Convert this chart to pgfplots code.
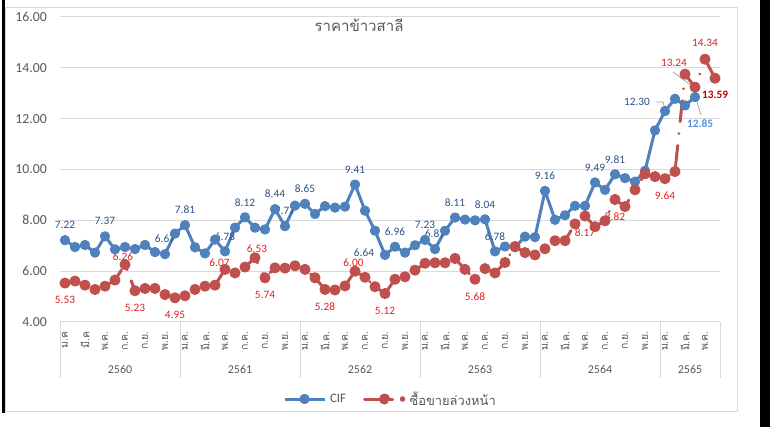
\documentclass[border=0pt]{standalone}
\usepackage{fontspec}
\setmainfont{Carlito}
\newfontfamily\thai[Script=Thai]{Loma}
\usepackage{pgfplots}
\pgfplotsset{compat=1.18}
\definecolor{cifblue}{HTML}{4F81BD}
\definecolor{redser}{HTML}{C0504D}
\definecolor{gridgray}{HTML}{D9D9D9}
\definecolor{textgray}{HTML}{595959}
\definecolor{cifdark}{HTML}{2E5286}
\definecolor{redlbl}{HTML}{E02020}
\definecolor{darkred}{HTML}{C00000}
\definecolor{lightblue}{HTML}{4F94DC}
\definecolor{leader}{HTML}{A6A6A6}
\tikzset{
  cifl/.style={font=\fontsize{11.3pt}{13pt}\selectfont, text=cifdark, inner sep=0pt},
  redl/.style={font=\fontsize{11.3pt}{13pt}\selectfont, text=redlbl, inner sep=0pt},
  yearl/.style={font=\fontsize{12pt}{14pt}\selectfont, text=textgray, inner sep=0pt},
}
\begin{document}
\begin{tikzpicture}
\fill[white] (0pt,0pt) rectangle (770pt,427pt);
\useasboundingbox (0pt,0pt) rectangle (770pt,427pt);
\draw[gridgray, line width=1pt] (5pt,15pt) rectangle (737pt,419pt);
\fill[black] (760pt,0pt) rectangle (770pt,427pt);
\fill[black] (2pt,14pt) rectangle (4.5pt,427pt);
\node[text=textgray, font=\fontsize{15pt}{18pt}\thai, inner sep=0pt] at (359pt,402pt) {ราคาข้าวสาลี};
\begin{axis}[
  width=660pt, height=305pt, scale only axis,
  at={(60pt,105pt)}, anchor=south west,
  xmin=-0.5, xmax=65.5, ymin=4, ymax=16,
  axis line style={draw=none},
  ymajorgrids, grid style={gridgray, line width=1pt},
  major tick length=0pt,
  clip=false,
  ytick={4,6,...,16},
  yticklabel shift=13pt,
  yticklabel style={font=\fontsize{13.8pt}{16pt}\selectfont, text=textgray, inner sep=0pt,
    /pgf/number format/.cd, fixed, fixed zerofill, precision=2, assume math mode=true},
  xtick={0,2,...,64},
  xticklabels={ม.ค, มี.ค, พ.ค., ก.ค., ก.ย., พ.ย.,
    ม.ค., มี.ค., พ.ค., ก.ค., ก.ย., พ.ย.,
    ม.ค., มี.ค., พ.ค., ก.ค., ก.ย., พ.ย.,
    ม.ค., มี.ค., พ.ค., ก.ค., ก.ย., พ.ย.,
    ม.ค., มี.ค., พ.ค., ก.ค., ก.ย., พ.ย.,
    ม.ค., มี.ค., พ.ค.},
  xticklabel shift=9pt,
  xticklabel style={font=\fontsize{10.5pt}{12pt}\thai, text=textgray, rotate=90, anchor=east, inner sep=0pt},
  legend columns=2,
  legend style={draw=none, fill=none, at={(axis description cs:0.3379,-0.2525)}, anchor=west,
    inner sep=0pt, outer sep=0pt,
    font=\fontsize{12.9pt}{15pt}\selectfont, text=textgray,
    nodes={inner sep=0pt},
    /tikz/every odd column/.append style={column sep=4pt},
    /tikz/every even column/.append style={column sep=17pt}},
]
\addplot[cifblue, line width=3pt, line join=round, mark=*, mark size=3.6pt,
  mark options={draw=none, fill=cifblue},
  legend image code/.code={\draw[cifblue, line width=3pt] (0pt,0pt) -- (40pt,0pt);
    \fill[cifblue] (20pt,0pt) circle (3.6pt);}]
coordinates {(0,7.22)(1,6.95)(2,7.03)(3,6.73)(4,7.37)(5,6.86)(6,6.95)(7,6.87)(8,7.03)(9,6.75)(10,6.67)(11,7.48)
(12,7.81)(13,6.94)(14,6.70)(15,7.24)(16,6.78)(17,7.71)(18,8.12)(19,7.71)(20,7.64)(21,8.44)(22,7.77)(23,8.58)
(24,8.65)(25,8.25)(26,8.56)(27,8.50)(28,8.54)(29,9.41)(30,8.38)(31,7.59)(32,6.64)(33,6.96)(34,6.73)(35,7.02)
(36,7.23)(37,6.87)(38,7.59)(39,8.11)(40,8.03)(41,8.00)(42,8.04)(43,6.78)(44,6.97)(45,6.94)(46,7.36)(47,7.34)
(48,9.16)(49,8.02)(50,8.20)(51,8.57)(52,8.57)(53,9.49)(54,9.20)(55,9.81)(56,9.66)(57,9.52)(58,9.95)(59,11.54)
(60,12.30)(61,12.78)(62,12.52)(63,12.85)};
\addlegendentry{CIF}
\addplot[redser, line width=3pt, line cap=round, line join=round,
  dash pattern=on 21pt off 12pt on 0.01pt off 12pt,
  mark=*, mark size=4pt, mark options={solid, draw=none, fill=redser},
  legend image code/.code={\draw[redser, line width=3pt] (0pt,0pt) -- (16pt,0pt);
    \draw[redser, line width=3pt] (20pt,0pt) -- (28pt,0pt);
    \fill[redser] (20pt,0pt) circle (4pt);
    \fill[redser] (38pt,0pt) circle (1.5pt);}]
coordinates {(0,5.53)(1,5.61)(2,5.45)(3,5.28)(4,5.41)(5,5.65)(6,6.26)(7,5.23)(8,5.32)(9,5.32)(10,5.08)(11,4.95)
(12,5.03)(13,5.28)(14,5.41)(15,5.45)(16,6.07)(17,5.93)(18,6.16)(19,6.53)(20,5.74)(21,6.13)(22,6.12)(23,6.21)
(24,6.07)(25,5.74)(26,5.28)(27,5.26)(28,5.42)(29,6.00)(30,5.76)(31,5.39)(32,5.12)(33,5.68)(34,5.78)(35,6.04)
(36,6.31)(37,6.33)(38,6.33)(39,6.50)(40,6.07)(41,5.68)(42,6.10)(43,5.93)(44,6.34)(45,6.97)(46,6.73)(47,6.64)
(48,6.88)(49,7.20)(50,7.20)(51,7.86)(52,8.17)(53,7.75)(54,7.98)(55,8.82)(56,8.54)(57,9.20)(58,9.83)(59,9.72)
(60,9.64)(61,9.92)(62,13.75)(63,13.24)(64,14.34)(65,13.59)};
\addlegendentry{\thai ซื้อขายล่วงหน้า}
% category axis separators
\draw[gridgray, line width=1pt] (axis cs:-0.5,4) -- ++(0pt,-56pt);
\draw[gridgray, line width=1pt] (axis cs:11.5,4) -- ++(0pt,-56pt);
\draw[gridgray, line width=1pt] (axis cs:23.5,4) -- ++(0pt,-56pt);
\draw[gridgray, line width=1pt] (axis cs:35.5,4) -- ++(0pt,-56pt);
\draw[gridgray, line width=1pt] (axis cs:47.5,4) -- ++(0pt,-56pt);
\draw[gridgray, line width=1pt] (axis cs:59.5,4) -- ++(0pt,-56pt);
\draw[gridgray, line width=1pt] (axis cs:65.5,4) -- ++(0pt,-56pt);
\node[yearl, yshift=-47pt] at (axis cs:5.5,4) {2560};
\node[yearl, yshift=-47pt] at (axis cs:17.5,4) {2561};
\node[yearl, yshift=-47pt] at (axis cs:29.5,4) {2562};
\node[yearl, yshift=-47pt] at (axis cs:41.5,4) {2563};
\node[yearl, yshift=-47pt] at (axis cs:53.5,4) {2564};
\node[yearl, yshift=-47pt] at (axis cs:62.5,4) {2565};
% CIF labels
\node[cifl, yshift=15pt] at (axis cs:0,7.22) {7.22};
\node[cifl, yshift=15pt] at (axis cs:4,7.37) {7.37};
\node[cifl, yshift=15pt] at (axis cs:10,6.67) {6.67};
\node[cifl, yshift=15pt] at (axis cs:12,7.81) {7.81};
\node[cifl, yshift=15pt] at (axis cs:16,6.78) {6.78};
\node[cifl, yshift=15pt] at (axis cs:18,8.12) {8.12};
\node[cifl, yshift=15pt] at (axis cs:21,8.44) {8.44};
\node[cifl, yshift=15pt] at (axis cs:22,7.77) {7.77};
\node[cifl, yshift=15pt] at (axis cs:24,8.65) {8.65};
\node[cifl, yshift=15pt] at (axis cs:29,9.41) {9.41};
\node[cifl, xshift=-21pt, yshift=2pt] at (axis cs:32,6.64) {6.64};
\node[cifl, yshift=15pt] at (axis cs:33,6.96) {6.96};
\node[cifl, yshift=15pt] at (axis cs:36,7.23) {7.23};
\node[cifl, yshift=15pt] at (axis cs:37,6.87) {6.87};
\node[cifl, yshift=15pt] at (axis cs:39,8.11) {8.11};
\node[cifl, yshift=15pt] at (axis cs:42,8.04) {8.04};
\node[cifl, yshift=15pt] at (axis cs:43,6.78) {6.78};
\node[cifl, yshift=15pt] at (axis cs:48,9.16) {9.16};
\node[cifl, yshift=15pt] at (axis cs:53,9.49) {9.49};
\node[cifl, yshift=15pt] at (axis cs:55,9.81) {9.81};
\draw[leader, line width=0.8pt] (axis cs:59.1,12.656) -- (axis cs:59.8,12.656) -- (axis cs:60,12.38);
\node[cifl] at (axis cs:57.2,12.656) {12.30};
\draw[leader, line width=0.8pt] (axis cs:63.1,12.774) -- (axis cs:63.6,12.144);
\node[cifl, text=lightblue, font=\fontsize{11.3pt}{13pt}\bfseries] at (axis cs:63.5,11.79) {12.85};
% red labels
\node[redl, yshift=-17pt] at (axis cs:0,5.53) {5.53};
\node[redl] at (axis cs:5.8,6.557) {6.26};
\node[redl, yshift=-17pt] at (axis cs:7,5.23) {5.23};
\node[redl, yshift=-17pt] at (axis cs:11,4.95) {4.95};
\node[redl] at (axis cs:15.45,6.32) {6.07};
\node[redl] at (axis cs:19.2,6.89) {6.53};
\node[redl, yshift=-17pt] at (axis cs:20,5.74) {5.74};
\node[redl, yshift=-17pt] at (axis cs:26,5.28) {5.28};
\node[redl] at (axis cs:28.85,6.34) {6.00};
\node[redl, yshift=-17pt] at (axis cs:32,5.12) {5.12};
\node[redl, yshift=-17pt] at (axis cs:41,5.68) {5.68};
\node[redl, yshift=-17pt] at (axis cs:52,8.17) {8.17};
\node[redl, yshift=-17pt] at (axis cs:55,8.82) {8.82};
\node[redl, yshift=-17pt] at (axis cs:60,9.64) {9.64};
\draw[leader, line width=0.8pt] (axis cs:60.8,13.836) -- (axis cs:62.8,13.246);
\node[redl] at (axis cs:60.9,14.19) {13.24};
\node[redl, yshift=16pt] at (axis cs:64,14.34) {14.34};
\node[redl, text=darkred, font=\fontsize{11.3pt}{13pt}\bfseries, yshift=-17pt] at (axis cs:65,13.59) {13.59};
\end{axis}
\end{tikzpicture}
\end{document}
